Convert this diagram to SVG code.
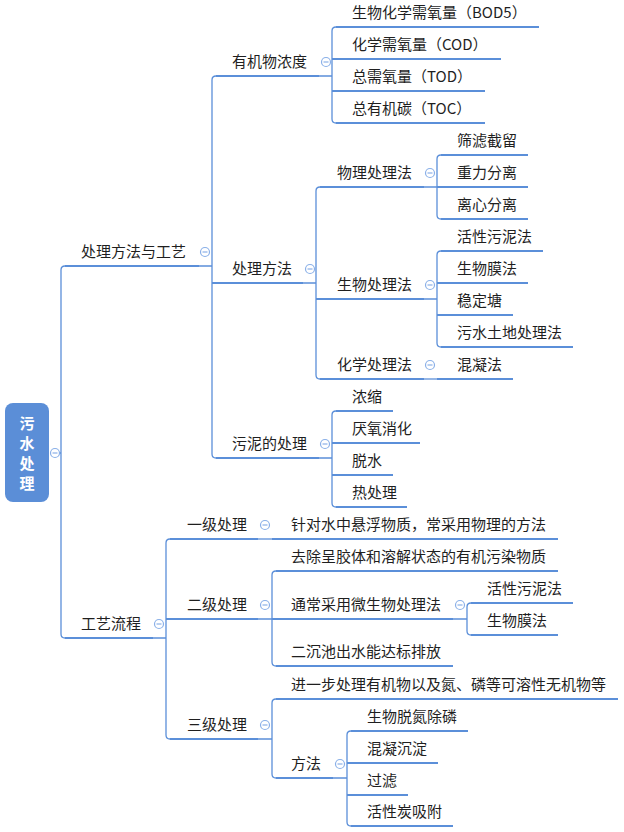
<svg xmlns="http://www.w3.org/2000/svg" xmlns:xlink="http://www.w3.org/1999/xlink" width="624" height="832" viewBox="0 0 624 832">
<style>
.ul{stroke:#5B8FD9;stroke-width:2;fill:none}
.cn{stroke:#5B8FD9;stroke-width:1.3;fill:none}
.t{font-family:"Microsoft YaHei","Noto Sans CJK SC",sans-serif;font-size:15px;fill:#1f1f1f}
.rt{font-family:"Microsoft YaHei","Noto Sans CJK SC",sans-serif;font-size:15px;font-weight:bold;fill:#ffffff;text-anchor:middle}
.cc{fill:#ffffff;stroke:#8AB0E8;stroke-width:1.2}
.cm{stroke:#8AB0E8;stroke-width:1.2}
</style>
<defs>
<g id="col"><circle class="cc" cx="0" cy="0" r="4.5"/><line class="cm" x1="-2.5" y1="0" x2="2.5" y2="0"/></g>
</defs>
<rect width="624" height="832" fill="#ffffff"/>
<g id="connectors">
<path class="cn" d="M65,266 Q61,266 61,270 V634 Q61,638 65,638"/>
<path class="cn" d="M59.5,453 H61"/>
<path class="cn" d="M199,266 H212 M216,76 Q212,76 212,80 V454 Q212,458 216,458"/>
<path class="cn" d="M319,76 H332 M336,27 Q332,27 332,31 V119 Q332,123 336,123"/>
<path class="cn" d="M303,283 H316 M320,187 Q316,187 316,191 V375 Q316,379 320,379"/>
<path class="cn" d="M424,187 H437 M441,155 Q437,155 437,159 V215 Q437,219 441,219"/>
<path class="cn" d="M424,299 H437 M441,251 Q437,251 437,255 V343 Q437,347 441,347"/>
<path class="cn" d="M424,379 H437"/>
<path class="cn" d="M319,458 H332 M336,411 Q332,411 332,415 V503 Q332,507 336,507"/>
<path class="cn" d="M153,638 H166 M170,539 Q166,539 166,543 V735 Q166,739 170,739"/>
<path class="cn" d="M258,539 H272"/>
<path class="cn" d="M258,619 H272 M276,571 Q272,571 272,575 V662 Q272,666 276,666"/>
<path class="cn" d="M453,619 H467 M471,603 Q467,603 467,607 V631 Q467,635 471,635"/>
<path class="cn" d="M258,739 H272 M276,699 Q272,699 272,703 V774 Q272,778 276,778"/>
<path class="cn" d="M333,778 H347 M351,731 Q347,731 347,735 V822 Q347,826 351,826"/>
</g>
<g id="root">
<rect x="5" y="403" width="44" height="99" rx="8" fill="#5B8ED7"/>
<text class="rt" x="27" y="428.5">污</text>
<text class="rt" x="27" y="448.5">水</text>
<text class="rt" x="27" y="468.5">处</text>
<text class="rt" x="27" y="488.5">理</text>
<use xlink:href="#col" x="55" y="453"/>
</g>
<g id="n1"><line class="ul" x1="65" y1="266" x2="199" y2="266"/><text class="t" x="81" y="257">处理方法与工艺</text><use xlink:href="#col" x="205" y="252"/></g>
<g id="n2"><line class="ul" x1="216" y1="76" x2="319" y2="76"/><text class="t" x="232" y="67">有机物浓度</text><use xlink:href="#col" x="326" y="62"/></g>
<g id="n3"><line class="ul" x1="336" y1="27" x2="539" y2="27"/><text class="t" x="352" y="18">生物化学需氧量（BOD5）</text></g>
<g id="n4"><line class="ul" x1="332" y1="59" x2="501" y2="59"/><text class="t" x="352" y="50">化学需氧量（COD）</text></g>
<g id="n5"><line class="ul" x1="332" y1="91" x2="485" y2="91"/><text class="t" x="352" y="82">总需氧量（TOD）</text></g>
<g id="n6"><line class="ul" x1="336" y1="123" x2="485" y2="123"/><text class="t" x="352" y="114">总有机碳（TOC）</text></g>
<g id="n7"><line class="ul" x1="212" y1="283" x2="303" y2="283"/><text class="t" x="232" y="274">处理方法</text><use xlink:href="#col" x="310" y="269"/></g>
<g id="n8"><line class="ul" x1="320" y1="187" x2="424" y2="187"/><text class="t" x="337" y="178">物理处理法</text><use xlink:href="#col" x="430" y="173"/></g>
<g id="n9"><line class="ul" x1="441" y1="155" x2="528" y2="155"/><text class="t" x="457" y="146">筛滤截留</text></g>
<g id="n10"><line class="ul" x1="437" y1="187" x2="528" y2="187"/><text class="t" x="457" y="178">重力分离</text></g>
<g id="n11"><line class="ul" x1="441" y1="219" x2="528" y2="219"/><text class="t" x="457" y="210">离心分离</text></g>
<g id="n12"><line class="ul" x1="316" y1="299" x2="424" y2="299"/><text class="t" x="337" y="290">生物处理法</text><use xlink:href="#col" x="430" y="285"/></g>
<g id="n13"><line class="ul" x1="441" y1="251" x2="543" y2="251"/><text class="t" x="457" y="242">活性污泥法</text></g>
<g id="n14"><line class="ul" x1="437" y1="283" x2="528" y2="283"/><text class="t" x="457" y="274">生物膜法</text></g>
<g id="n15"><line class="ul" x1="437" y1="315" x2="513" y2="315"/><text class="t" x="457" y="306">稳定塘</text></g>
<g id="n16"><line class="ul" x1="441" y1="347" x2="573" y2="347"/><text class="t" x="457" y="338">污水土地处理法</text></g>
<g id="n17"><line class="ul" x1="320" y1="379" x2="424" y2="379"/><text class="t" x="337" y="370">化学处理法</text><use xlink:href="#col" x="430" y="365"/></g>
<g id="n18"><line class="ul" x1="437" y1="379" x2="513" y2="379"/><text class="t" x="457" y="370">混凝法</text></g>
<g id="n19"><line class="ul" x1="216" y1="458" x2="319" y2="458"/><text class="t" x="232" y="449">污泥的处理</text><use xlink:href="#col" x="325" y="444"/></g>
<g id="n20"><line class="ul" x1="336" y1="411" x2="393" y2="411"/><text class="t" x="352" y="402">浓缩</text></g>
<g id="n21"><line class="ul" x1="332" y1="443" x2="420" y2="443"/><text class="t" x="352" y="434">厌氧消化</text></g>
<g id="n22"><line class="ul" x1="332" y1="475" x2="393" y2="475"/><text class="t" x="352" y="466">脱水</text></g>
<g id="n23"><line class="ul" x1="336" y1="507" x2="407" y2="507"/><text class="t" x="352" y="498">热处理</text></g>
<g id="n24"><line class="ul" x1="65" y1="638" x2="153" y2="638"/><text class="t" x="81" y="629">工艺流程</text><use xlink:href="#col" x="159" y="624"/></g>
<g id="n25"><line class="ul" x1="170" y1="539" x2="258" y2="539"/><text class="t" x="187" y="530">一级处理</text><use xlink:href="#col" x="265" y="525"/></g>
<g id="n26"><line class="ul" x1="272" y1="539" x2="558" y2="539"/><text class="t" x="291" y="530">针对水中悬浮物质，常采用物理的方法</text></g>
<g id="n27"><line class="ul" x1="166" y1="619" x2="258" y2="619"/><text class="t" x="187" y="610">二级处理</text><use xlink:href="#col" x="265" y="605"/></g>
<g id="n28"><line class="ul" x1="276" y1="571" x2="558" y2="571"/><text class="t" x="291" y="562">去除呈胶体和溶解状态的有机污染物质</text></g>
<g id="n29"><line class="ul" x1="272" y1="619" x2="453" y2="619"/><text class="t" x="291" y="610">通常采用微生物处理法</text><use xlink:href="#col" x="460" y="605"/></g>
<g id="n30"><line class="ul" x1="471" y1="603" x2="573" y2="603"/><text class="t" x="487" y="594">活性污泥法</text></g>
<g id="n31"><line class="ul" x1="471" y1="635" x2="558" y2="635"/><text class="t" x="487" y="626">生物膜法</text></g>
<g id="n32"><line class="ul" x1="276" y1="666" x2="453" y2="666"/><text class="t" x="291" y="657">二沉池出水能达标排放</text></g>
<g id="n33"><line class="ul" x1="170" y1="739" x2="258" y2="739"/><text class="t" x="187" y="730">三级处理</text><use xlink:href="#col" x="265" y="725"/></g>
<g id="n34"><line class="ul" x1="276" y1="699" x2="618" y2="699"/><text class="t" x="291" y="690">进一步处理有机物以及氮、磷等可溶性无机物等</text></g>
<g id="n35"><line class="ul" x1="276" y1="778" x2="333" y2="778"/><text class="t" x="291" y="769">方法</text><use xlink:href="#col" x="340" y="764"/></g>
<g id="n36"><line class="ul" x1="351" y1="731" x2="468" y2="731"/><text class="t" x="367" y="722">生物脱氮除磷</text></g>
<g id="n37"><line class="ul" x1="347" y1="763" x2="438" y2="763"/><text class="t" x="367" y="754">混凝沉淀</text></g>
<g id="n38"><line class="ul" x1="347" y1="795" x2="408" y2="795"/><text class="t" x="367" y="786">过滤</text></g>
<g id="n39"><line class="ul" x1="351" y1="826" x2="453" y2="826"/><text class="t" x="367" y="817">活性炭吸附</text></g>
</svg>
